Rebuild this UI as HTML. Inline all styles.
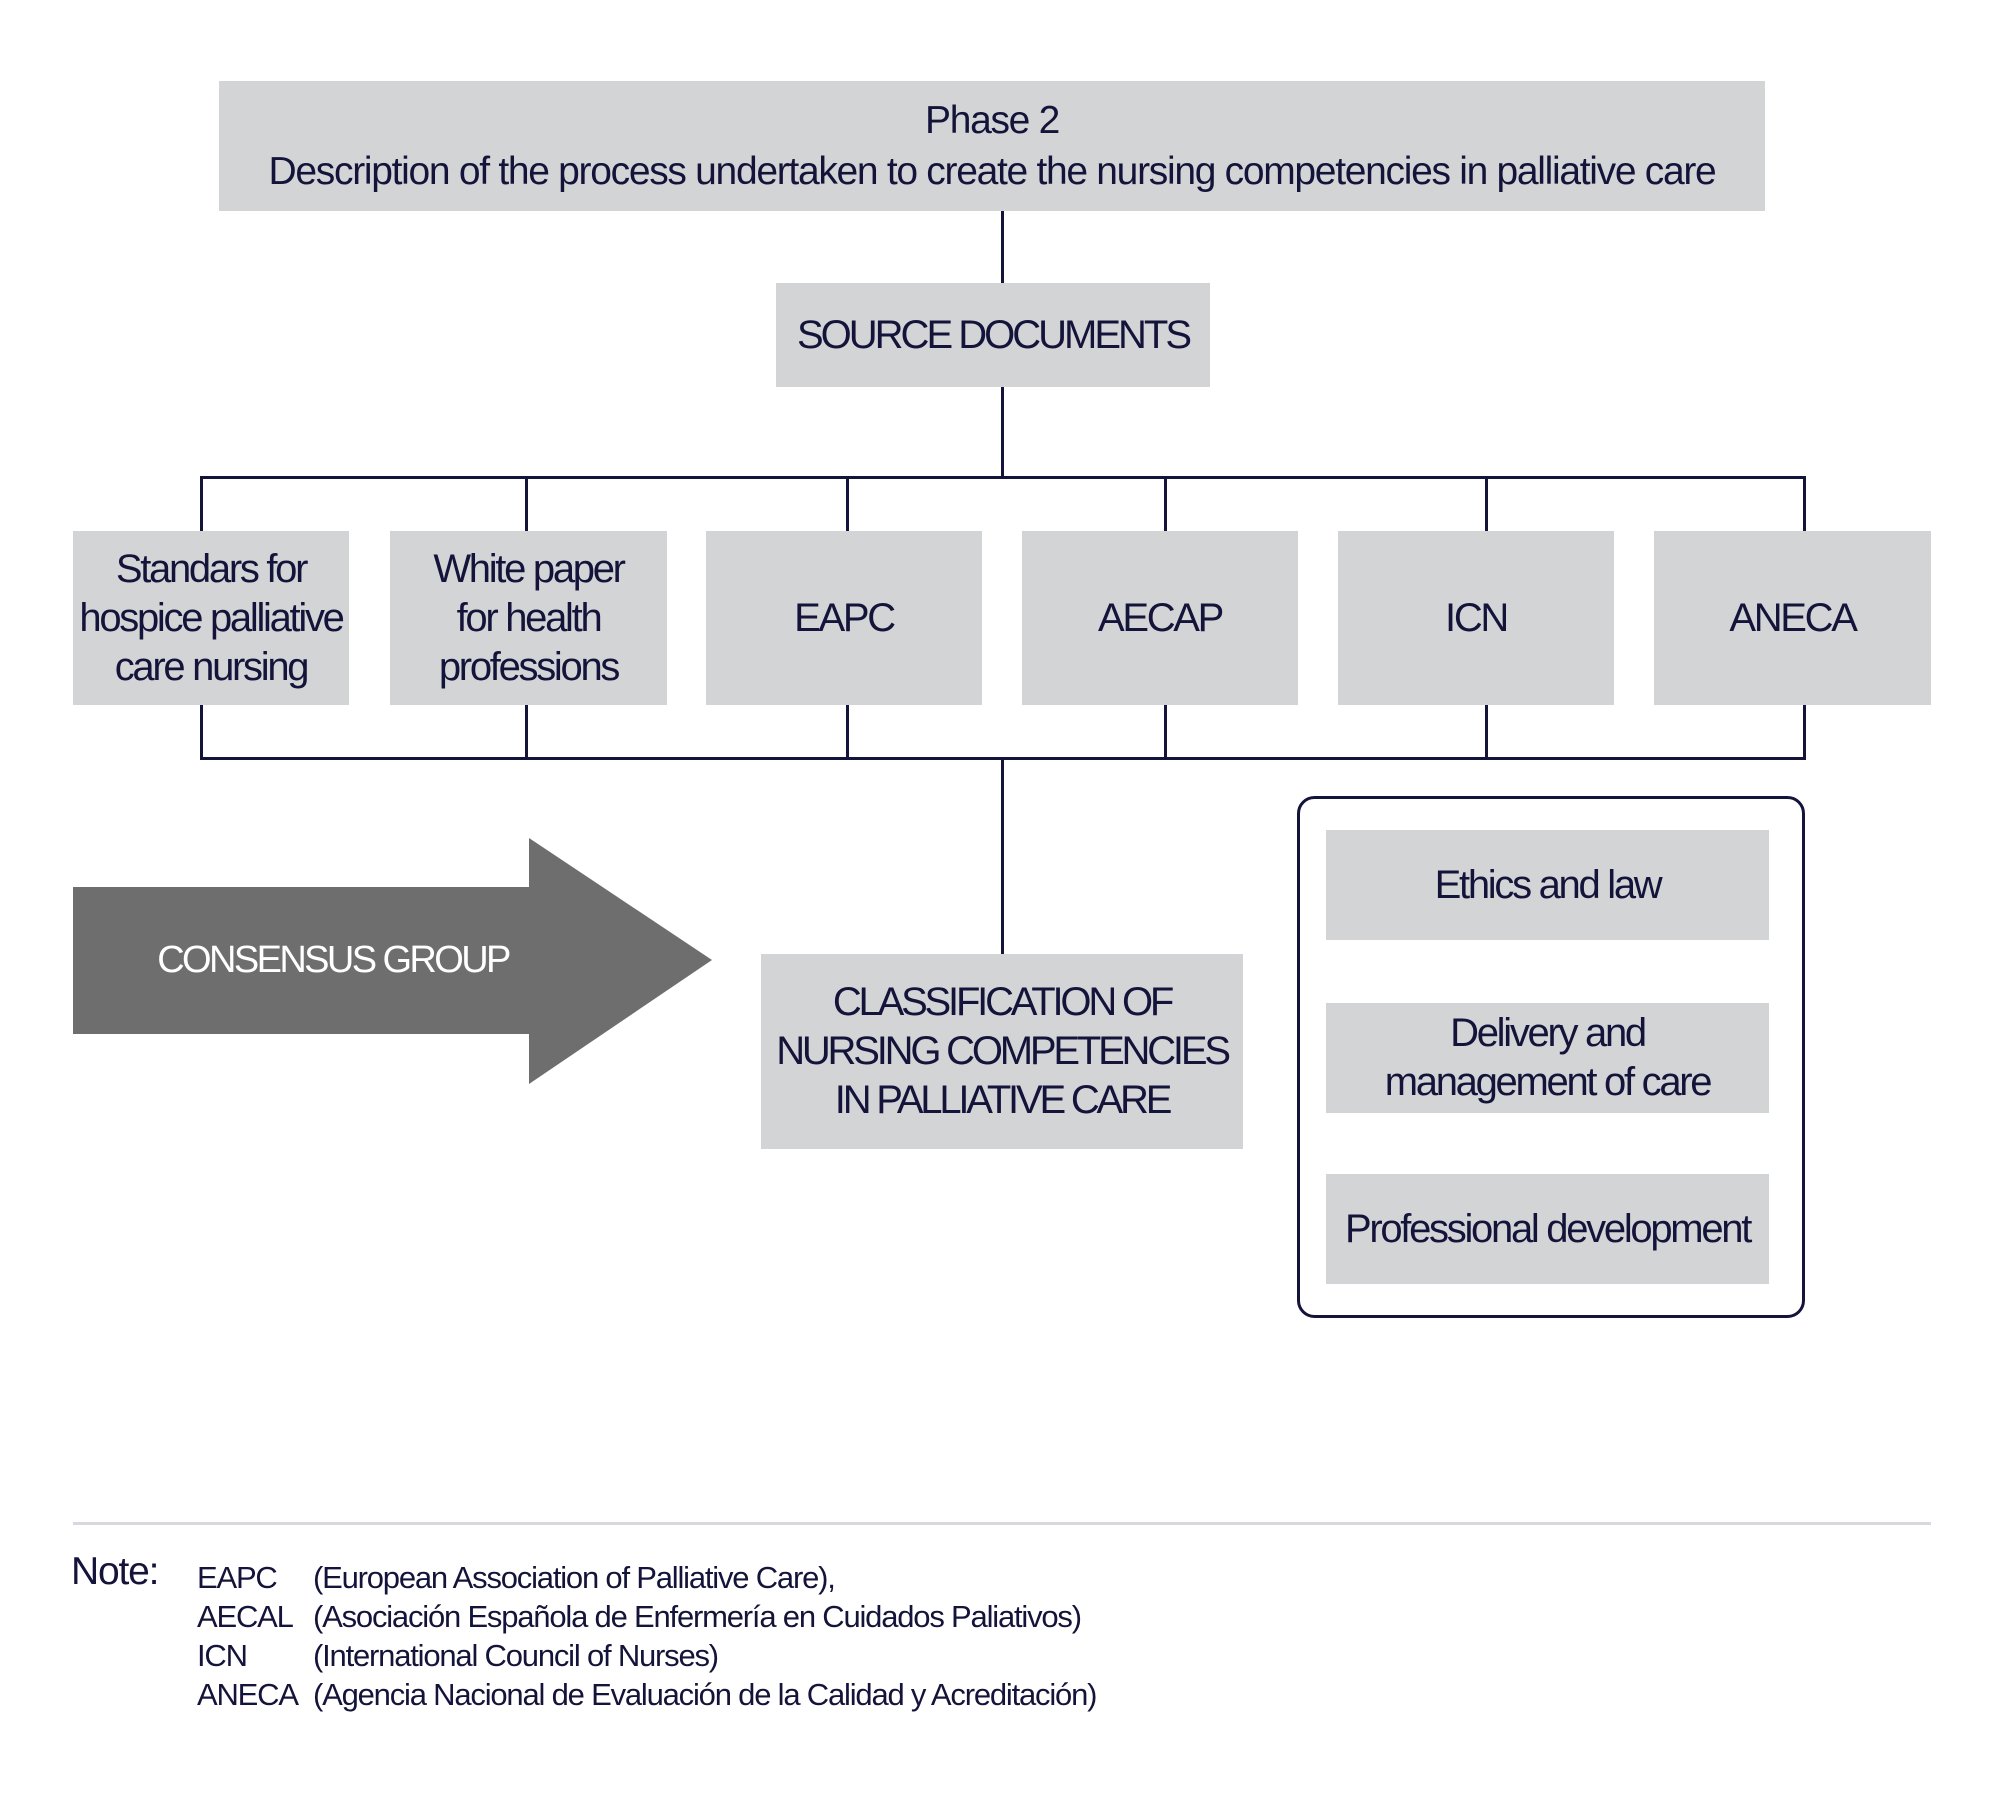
<!DOCTYPE html>
<html><head><meta charset="utf-8">
<style>
html,body{margin:0;padding:0;background:#fff;}
body{width:2000px;height:1806px;position:relative;overflow:hidden;font-family:"Liberation Sans",sans-serif;color:#14143a;}
.b{position:absolute;background:#d3d4d6;display:flex;align-items:center;justify-content:center;text-align:center;font-size:40px;letter-spacing:-2.3px;line-height:49px;}
.l{position:absolute;background:#14143a;}
.n{position:absolute;font-size:31px;letter-spacing:-1.2px;white-space:nowrap;}
</style></head><body>
<div class="b" style="left:219px;top:81px;width:1546px;height:130px;flex-direction:column;line-height:51px;font-size:39px;letter-spacing:-1.3px;">Phase 2<br>Description of the process undertaken to create the nursing competencies in palliative care</div>
<div class="l" style="left:1001px;top:211px;width:3px;height:72px;"></div>
<div class="b" style="left:776px;top:283px;width:434px;height:104px;letter-spacing:-3px;">SOURCE DOCUMENTS</div>
<div class="l" style="left:1001px;top:387px;width:3px;height:91px;"></div>
<div class="l" style="left:201px;top:476px;width:1605px;height:3px;"></div>
<div class="l" style="left:201px;top:757px;width:1605px;height:3px;"></div>
<div class="l" style="left:200px;top:476px;width:3px;height:284px;"></div>
<div class="l" style="left:525px;top:476px;width:3px;height:284px;"></div>
<div class="l" style="left:846px;top:476px;width:3px;height:284px;"></div>
<div class="l" style="left:1164px;top:476px;width:3px;height:284px;"></div>
<div class="l" style="left:1485px;top:476px;width:3px;height:284px;"></div>
<div class="l" style="left:1803px;top:476px;width:3px;height:284px;"></div>
<div class="b" style="left:73px;top:531px;width:276px;height:174px;">Standars for<br>hospice palliative<br>care nursing</div>
<div class="b" style="left:390px;top:531px;width:277px;height:174px;">White paper<br>for health<br>professions</div>
<div class="b" style="left:706px;top:531px;width:276px;height:174px;">EAPC</div>
<div class="b" style="left:1022px;top:531px;width:276px;height:174px;">AECAP</div>
<div class="b" style="left:1338px;top:531px;width:276px;height:174px;">ICN</div>
<div class="b" style="left:1654px;top:531px;width:277px;height:174px;">ANECA</div>
<div class="l" style="left:1001px;top:759px;width:3px;height:195px;"></div>
<div class="b" style="left:761px;top:954px;width:482px;height:195px;letter-spacing:-3.2px;">CLASSIFICATION OF<br>NURSING COMPETENCIES<br>IN PALLIATIVE CARE</div>
<svg style="position:absolute;left:0;top:0" width="2000" height="1806">
<polygon points="73,887 529,887 529,838 712,960 529,1084 529,1034 73,1034" fill="#6e6e6e"/>
<rect x="1298.5" y="797.5" width="505" height="519" rx="16" fill="none" stroke="#14143a" stroke-width="3"/>
<rect x="73" y="1522" width="1858" height="3" fill="#d8d8e0"/>
</svg>
<div style="position:absolute;left:73px;top:887px;width:520px;height:147px;display:flex;align-items:center;justify-content:center;color:#fff;font-size:38px;letter-spacing:-2.6px;">CONSENSUS GROUP</div>
<div class="b" style="left:1326px;top:830px;width:443px;height:110px;">Ethics and law</div>
<div class="b" style="left:1326px;top:1003px;width:443px;height:110px;">Delivery and<br>management of care</div>
<div class="b" style="left:1326px;top:1174px;width:443px;height:110px;">Professional development</div>
<div class="n" style="left:71px;top:1550px;font-size:39px;">Note:</div>
<div class="n" style="left:197px;top:1560px;">EAPC</div>
<div class="n" style="left:197px;top:1599px;">AECAL</div>
<div class="n" style="left:197px;top:1638px;">ICN</div>
<div class="n" style="left:197px;top:1677px;">ANECA</div>
<div class="n" style="left:313px;top:1560px;">(European Association of Palliative Care),</div>
<div class="n" style="left:313px;top:1599px;">(Asociación Española de Enfermería en Cuidados Paliativos)</div>
<div class="n" style="left:313px;top:1638px;">(International Council of Nurses)</div>
<div class="n" style="left:313px;top:1677px;">(Agencia Nacional de Evaluación de la Calidad y Acreditación)</div>
</body></html>
